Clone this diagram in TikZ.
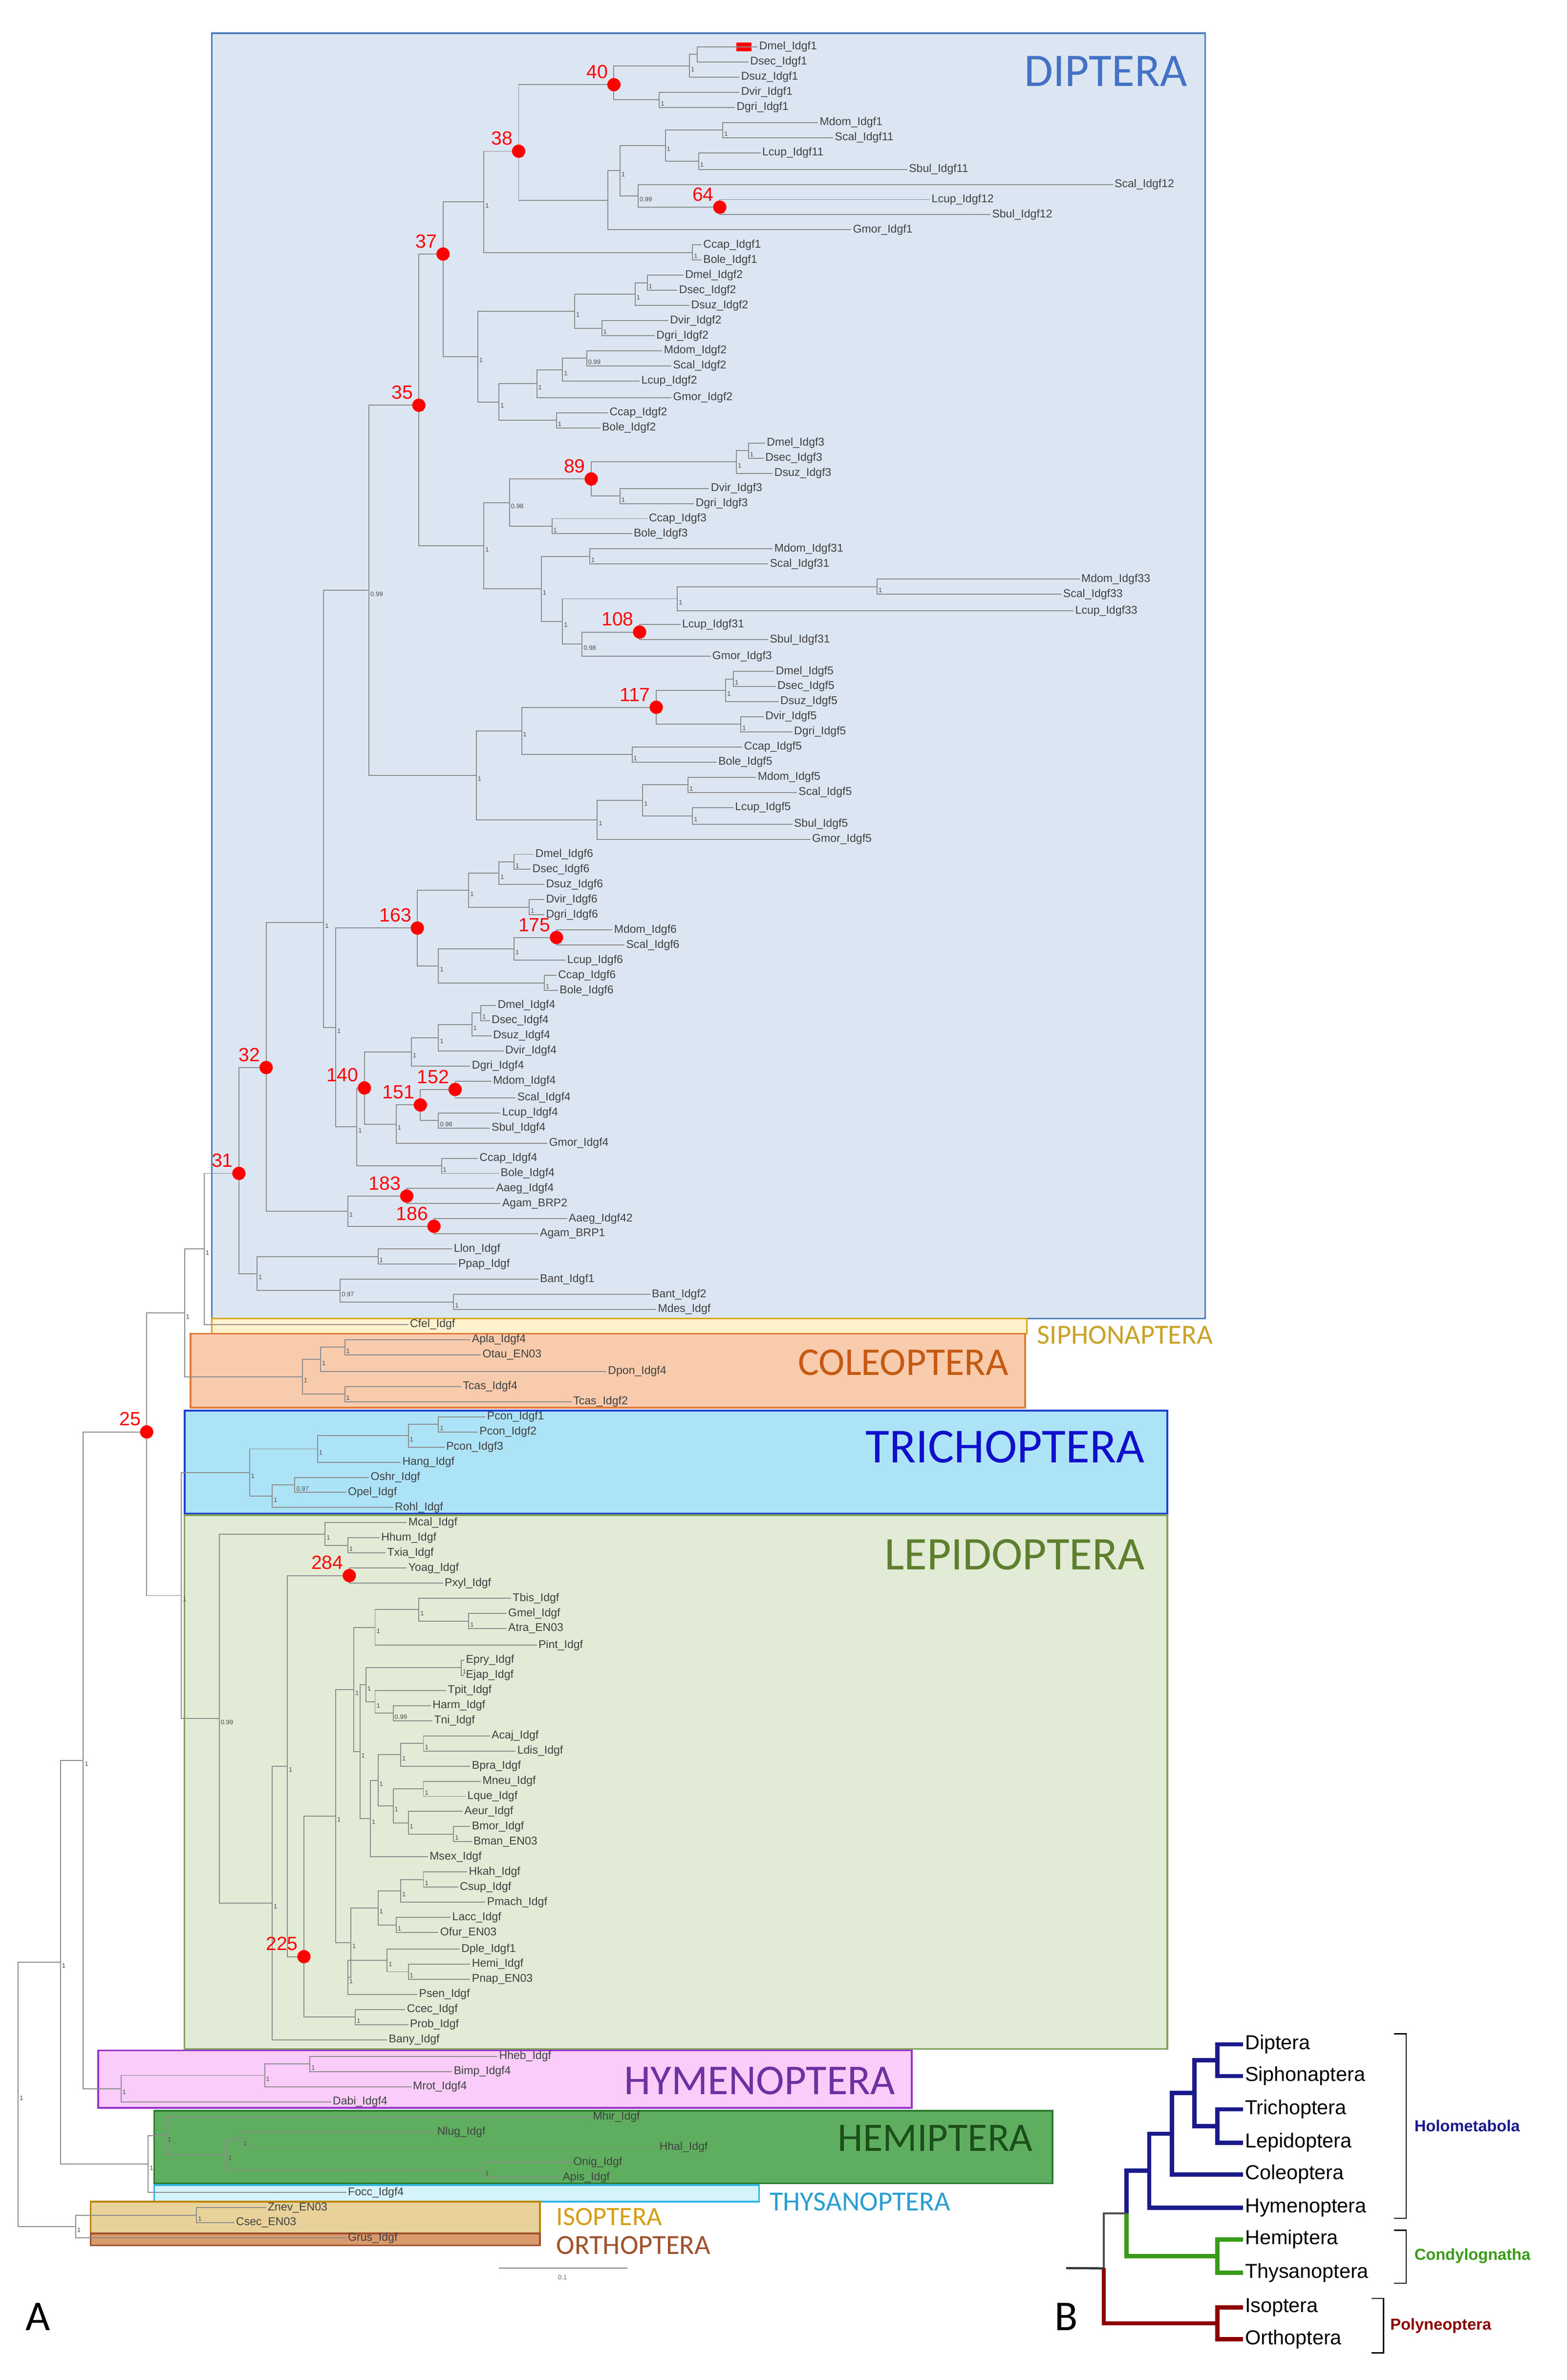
\documentclass[tikz,border=0pt]{standalone}
\usepackage{fontspec}
\setmainfont{Liberation Sans}
\newfontfamily\calf{Carlito}
\usetikzlibrary{calc}
\definecolor{dipfill}{HTML}{DCE6F2}\definecolor{dipdraw}{HTML}{4F81BD}\definecolor{diptext}{HTML}{4472C4}
\definecolor{siphfill}{HTML}{FFF2CC}\definecolor{siphdraw}{HTML}{D6A520}\definecolor{siphtext}{HTML}{C9A227}
\definecolor{colfill}{HTML}{F8CBAD}\definecolor{coldraw}{HTML}{E07B39}\definecolor{coltext}{HTML}{C55A11}
\definecolor{trifill}{HTML}{ADE3F7}\definecolor{tridraw}{HTML}{1F3FD1}\definecolor{tritext}{HTML}{1010CC}
\definecolor{lepfill}{HTML}{E2EBD5}\definecolor{lepdraw}{HTML}{7FA15A}\definecolor{leptext}{HTML}{5E7F2E}
\definecolor{hymfill}{HTML}{F9CCF9}\definecolor{hymdraw}{HTML}{9933CC}\definecolor{hymtext}{HTML}{7030A0}
\definecolor{hemfill}{HTML}{5FAE5F}\definecolor{hemdraw}{HTML}{2E7D32}\definecolor{hemtext}{HTML}{1B4F1B}
\definecolor{thyfill}{HTML}{D5F3FB}\definecolor{thydraw}{HTML}{33B5E5}\definecolor{thytext}{HTML}{2A9FD0}
\definecolor{isofill}{HTML}{E8D29A}\definecolor{isodraw}{HTML}{B8860B}\definecolor{isotext}{HTML}{D4A017}
\definecolor{orfill}{HTML}{D99A6C}\definecolor{ordraw}{HTML}{A0522D}\definecolor{ortext}{HTML}{A0522D}
\definecolor{bnavy}{HTML}{1A1A8C}\definecolor{bgreen}{HTML}{3A9A1A}\definecolor{bred}{HTML}{8B0000}
\newcommand\lf[4]{\coordinate (#1) at (#2,#3); \node[lf] at (#1) {#4};}
\newcommand\nd[5][]{\coordinate (tmpc) at ($(#4)!.5!(#5)$); \coordinate (tmpx) at (#3,0);
  \coordinate (#2) at (tmpc -| tmpx); \draw[br] (#4) -| (#2); \draw[br] (#5) -| (#2);
  \if\relax\detokenize{#1}\relax\else\node[sup] at (#2) {#1};\fi}
\newcommand\ndy[6][]{\coordinate (#2) at (#3,#4); \draw[br] (#5) -| (#2); \draw[br] (#6) -| (#2);
  \if\relax\detokenize{#1}\relax\else\node[sup] at (#2) {#1};\fi}
\newcommand\rd[2]{\fill[red] (#1) circle (0.11cm); \node[rn] at ($(#1)+(-3,-3)$) {#2};}
\begin{document}
\begin{tikzpicture}[x=0.025cm,y=-0.025cm,
 br/.style={draw=black!45,line width=0.45pt},
 lf/.style={anchor=west,inner sep=0.6pt,font=\fontsize{5.3}{6}\selectfont,text=black!75},
 sup/.style={anchor=north west,inner sep=0.5pt,font=\fontsize{3}{3}\selectfont,text=black!70},
 rn/.style={anchor=south east,inner sep=0.5pt,text=red,font=\fontsize{9}{9}\selectfont},
 bl/.style={anchor=west,inner sep=0.8pt,font=\fontsize{9.5}{10}\selectfont},
 bb/.style={anchor=west,inner sep=0.8pt,font=\bfseries\fontsize{7.5}{8}\selectfont}]
\useasboundingbox[fill=white] (0,0) rectangle (1036,1574);
% boxes
\draw[fill=dipfill,draw=dipdraw,line width=0.8pt] (140,22) rectangle (797,872);
\node[text=diptext,font=\calf\fontsize{22}{22}\selectfont,anchor=east] (tdip) at (790,47) {DIPTERA};
\draw[fill=siphfill,draw=siphdraw,line width=0.8pt] (140,872) rectangle (679,882);
\node[text=siphtext,font=\calf\fontsize{13}{13}\selectfont,anchor=west] (tsip) at (681,883) {SIPHONAPTERA};
\draw[fill=colfill,draw=coldraw,line width=0.8pt] (126,882) rectangle (678,931);
\node[text=coltext,font=\calf\fontsize{18.5}{18.5}\selectfont,anchor=east] (tcol) at (672,901) {COLEOPTERA};
\draw[fill=trifill,draw=tridraw,line width=0.9pt] (122,933) rectangle (772,1001);
\node[text=tritext,font=\calf\fontsize{23}{23}\selectfont,anchor=east] (ttri) at (762,957) {TRICHOPTERA};
\draw[fill=lepfill,draw=lepdraw,line width=0.8pt] (122,1002) rectangle (772,1355);
\node[text=leptext,font=\calf\fontsize{22}{22}\selectfont,anchor=east] (tlep) at (762,1028) {LEPIDOPTERA};
\draw[fill=hymfill,draw=hymdraw,line width=0.8pt] (65,1356) rectangle (603,1394);
\node[text=hymtext,font=\calf\fontsize{20}{20}\selectfont,anchor=east] (thym) at (597,1376) {HYMENOPTERA};
\draw[fill=hemfill,draw=hemdraw,line width=0.8pt] (102,1396) rectangle (696,1444);
\node[text=hemtext,font=\calf\fontsize{19}{19}\selectfont,anchor=east] (them) at (688,1414) {HEMIPTERA};
\draw[fill=thyfill,draw=thydraw,line width=0.8pt] (102,1445) rectangle (502,1456);
\node[text=thytext,font=\calf\fontsize{13}{13}\selectfont,anchor=west] (tthy) at (504,1456) {THYSANOPTERA};
\draw[fill=isofill,draw=isodraw,line width=0.8pt] (60,1456) rectangle (357,1477);
\node[text=isotext,font=\calf\fontsize{12.5}{12.5}\selectfont,anchor=west] (tiso) at (363,1466) {ISOPTERA};
\draw[fill=orfill,draw=ordraw,line width=0.8pt] (60,1477) rectangle (357,1485);
\node[text=ortext,font=\calf\fontsize{13}{13}\selectfont,anchor=west] (tort) at (363,1485) {ORTHOPTERA};
\fill[red] (487,28) rectangle (497,34);
% Idgf1
\lf{dm1}{501}{31}{Dmel\_Idgf1}\lf{ds1}{495}{41}{Dsec\_Idgf1}\lf{dz1}{489}{51}{Dsuz\_Idgf1}
\lf{dv1}{489}{61}{Dvir\_Idgf1}\lf{dg1}{486}{71}{Dgri\_Idgf1}
\nd{a1}{461}{dm1}{ds1}\nd[1]{a2}{456}{a1}{dz1}\nd[1]{a3}{436}{dv1}{dg1}\ndy{a4}{406}{56}{a2}{a3}
\lf{md1}{541}{81}{Mdom\_Idgf1}\lf{sc11}{551}{91}{Scal\_Idgf11}\lf{lc11}{503}{101}{Lcup\_Idgf11}
\lf{sb11}{600}{112}{Sbul\_Idgf11}\lf{sc12}{736}{122}{Scal\_Idgf12}\lf{lc12}{615}{132}{Lcup\_Idgf12}
\lf{sb12}{655}{142}{Sbul\_Idgf12}\lf{gm1}{563}{152}{Gmor\_Idgf1}
\nd[1]{b1}{478}{md1}{sc11}\nd[1]{b2}{462}{lc11}{sb11}\nd[1]{b3}{440}{b1}{b2}
\nd[1]{b4}{476}{lc12}{sb12}\nd[0.99]{b5}{422}{sc12}{b4}\nd[1]{b6}{410}{b3}{b5}\nd{b7}{402}{b6}{gm1}
\ndy[1]{n38}{343}{100}{a4}{b7}
\lf{cc1}{464}{162}{Ccap\_Idgf1}\lf{bo1}{464}{172}{Bole\_Idgf1}
\nd[1]{c1}{458}{cc1}{bo1}\nd[1]{k1}{320}{n38}{c1}
% Idgf2
\lf{dm2}{452}{182}{Dmel\_Idgf2}\lf{ds2}{448}{192}{Dsec\_Idgf2}\lf{dz2}{456}{202}{Dsuz\_Idgf2}
\lf{dv2}{442}{212}{Dvir\_Idgf2}\lf{dg2}{433}{222}{Dgri\_Idgf2}\lf{md2}{438}{232}{Mdom\_Idgf2}
\lf{sc2}{444}{242}{Scal\_Idgf2}\lf{lc2}{423}{252}{Lcup\_Idgf2}\lf{gm2}{444}{263}{Gmor\_Idgf2}
\lf{cc2}{402}{273}{Ccap\_Idgf2}\lf{bo2}{397}{283}{Bole\_Idgf2}
\nd[1]{e1}{428}{dm2}{ds2}\nd[1]{e2}{420}{e1}{dz2}\nd[1]{e3}{398}{dv2}{dg2}\nd[1]{e4}{380}{e2}{e3}
\nd[0.99]{e5}{388}{md2}{sc2}\nd[1]{e6}{372}{e5}{lc2}\nd[1]{e7}{355}{e6}{gm2}
\nd[1]{e9}{368}{cc2}{bo2}\nd[1]{e8}{330}{e7}{e9}\nd[1]{e10}{316}{e4}{e8}
\ndy[1]{n37}{293}{168}{k1}{e10}
% Idgf3
\lf{dm3}{506}{293}{Dmel\_Idgf3}\lf{ds3}{505}{303}{Dsec\_Idgf3}\lf{dz3}{511}{313}{Dsuz\_Idgf3}
\lf{dv3}{469}{323}{Dvir\_Idgf3}\lf{dg3}{459}{333}{Dgri\_Idgf3}\lf{cc3}{428}{343}{Ccap\_Idgf3}
\lf{bo3}{418}{353}{Bole\_Idgf3}\lf{md31}{511}{363}{Mdom\_Idgf31}\lf{sc31}{508}{373}{Scal\_Idgf31}
\lf{md33}{714}{383}{Mdom\_Idgf33}\lf{sc33}{702}{393}{Scal\_Idgf33}\lf{lc33}{710}{404}{Lcup\_Idgf33}
\lf{lc31}{450}{413}{Lcup\_Idgf31}\lf{sb31}{508}{423}{Sbul\_Idgf31}\lf{gm3}{470}{434}{Gmor\_Idgf3}
\nd[1]{f1}{495}{dm3}{ds3}\nd[1]{f2}{487}{f1}{dz3}\nd[1]{f3}{410}{dv3}{dg3}\nd[1]{f4}{391}{f2}{f3}
\nd[1]{f5}{365}{cc3}{bo3}\nd[0.98]{f6}{337}{f4}{f5}
\nd[1]{g1}{390}{md31}{sc31}\nd[1]{g2}{580}{md33}{sc33}\nd[1]{g3}{448}{g2}{lc33}
\nd[1]{g4}{423}{lc31}{sb31}\nd[0.98]{g5}{385}{g4}{gm3}\nd[1]{g6}{372}{g3}{g5}\nd[1]{g7}{358}{g1}{g6}
\nd[1]{f7}{320}{f6}{g7}\ndy[1]{n35}{277}{268}{n37}{f7}
% Idgf5
\lf{dm5}{512}{444}{Dmel\_Idgf5}\lf{ds5}{513}{454}{Dsec\_Idgf5}\lf{dz5}{515}{464}{Dsuz\_Idgf5}
\lf{dv5}{505}{474}{Dvir\_Idgf5}\lf{dg5}{524}{484}{Dgri\_Idgf5}\lf{cc5}{491}{494}{Ccap\_Idgf5}
\lf{bo5}{474}{504}{Bole\_Idgf5}\lf{md5}{500}{514}{Mdom\_Idgf5}\lf{sc5}{527}{524}{Scal\_Idgf5}
\lf{lc5}{485}{534}{Lcup\_Idgf5}\lf{sb5}{524}{545}{Sbul\_Idgf5}\lf{gm5}{536}{555}{Gmor\_Idgf5}
\nd[1]{h1}{485}{dm5}{ds5}\nd[1]{h2}{480}{h1}{dz5}\nd[1]{h3}{490}{dv5}{dg5}\nd[1]{h4}{434}{h2}{h3}
\nd[1]{h5}{418}{cc5}{bo5}\nd[1]{h6}{345}{h4}{h5}
\nd[1]{i1}{455}{md5}{sc5}\nd[1]{i2}{458}{lc5}{sb5}\nd[1]{i3}{425}{i1}{i2}\nd[1]{i4}{395}{i3}{gm5}
\nd[1]{h7}{315}{h6}{i4}\nd[0.99]{j1}{244}{n35}{h7}
% Idgf6
\lf{dm6}{353}{565}{Dmel\_Idgf6}\lf{ds6}{351}{575}{Dsec\_Idgf6}\lf{dz6}{360}{585}{Dsuz\_Idgf6}
\lf{dv6}{360}{595}{Dvir\_Idgf6}\lf{dg6}{360}{605}{Dgri\_Idgf6}\lf{md6}{405}{615}{Mdom\_Idgf6}
\lf{sc6}{413}{625}{Scal\_Idgf6}\lf{lc6}{374}{635}{Lcup\_Idgf6}\lf{cc6}{368}{645}{Ccap\_Idgf6}
\lf{bo6}{369}{655}{Bole\_Idgf6}
\nd[1]{o1}{340}{dm6}{ds6}\nd[1]{o2}{330}{o1}{dz6}\nd[1]{o3}{350}{dv6}{dg6}\nd[1]{o4}{310}{o2}{o3}
\nd[1]{o5}{368}{md6}{sc6}\nd[1]{o6}{340}{o5}{lc6}\nd[1]{o7}{360}{cc6}{bo6}\nd[1]{o8}{290}{o6}{o7}
\nd[1]{o9}{276}{o4}{o8}
% Idgf4
\lf{dm4}{328}{665}{Dmel\_Idgf4}\lf{ds4}{324}{675}{Dsec\_Idgf4}\lf{dz4}{325}{685}{Dsuz\_Idgf4}
\lf{dv4}{333}{695}{Dvir\_Idgf4}\lf{dg4}{311}{705}{Dgri\_Idgf4}\lf{md4}{325}{715}{Mdom\_Idgf4}
\lf{sc4}{341}{726}{Scal\_Idgf4}\lf{lc4}{331}{736}{Lcup\_Idgf4}\lf{sb4}{324}{746}{Sbul\_Idgf4}
\lf{gm4}{362}{756}{Gmor\_Idgf4}\lf{cc4}{316}{766}{Ccap\_Idgf4}\lf{bo4}{330}{776}{Bole\_Idgf4}
\nd[1]{p1}{318}{dm4}{ds4}\nd[1]{p2}{312}{p1}{dz4}\nd[1]{p3}{290}{p2}{dv4}\nd[1]{p4}{272}{p3}{dg4}
\nd[1]{p5}{301}{md4}{sc4}\nd[0.98]{p6}{290}{lc4}{sb4}\nd[1]{p7}{278}{p5}{p6}\nd[1]{p8}{262}{p7}{gm4}
\nd[1]{p9}{241}{p4}{p8}\nd[1]{p10}{292}{cc4}{bo4}\nd[1]{p11}{236}{p9}{p10}
\nd[1]{q0}{222}{o9}{p11}\ndy[1]{q1}{214}{610}{j1}{q0}
\lf{aa4}{327}{786}{Aaeg\_Idgf4}\lf{ab2}{331}{796}{Agam\_BRP2}
\lf{aa42}{375}{806}{Aaeg\_Idgf42}\lf{ab1}{356}{816}{Agam\_BRP1}
\nd[1]{r1}{269}{aa4}{ab2}\nd[1]{r2}{287}{aa42}{ab1}\nd[1]{r3}{230}{r1}{r2}
\ndy[1]{n32}{176}{706}{q1}{r3}
\lf{ll}{299}{826}{Llon\_Idgf}\lf{pp}{302}{836}{Ppap\_Idgf}\lf{ba1}{356}{846}{Bant\_Idgf1}
\lf{ba2}{430}{856}{Bant\_Idgf2}\lf{mde}{434}{866}{Mdes\_Idgf}
\nd[1]{s1}{250}{ll}{pp}\nd[1]{s2}{300}{ba2}{mde}\nd[0.97]{s3}{225}{ba1}{s2}\nd[1]{s4}{170}{s1}{s3}
\ndy[1]{n31}{158}{776}{n32}{s4}
\lf{cf}{270}{876}{Cfel\_Idgf}
\nd[1]{t1}{135}{n31}{cf}
% Coleoptera
\lf{ap}{311}{886}{Apla\_Idgf4}\lf{ot}{318}{896}{Otau\_EN03}\lf{dp}{401}{907}{Dpon\_Idgf4}
\lf{tc4}{305}{917}{Tcas\_Idgf4}\lf{tc2}{378}{927}{Tcas\_Idgf2}
\nd[1]{u1}{228}{ap}{ot}\nd[1]{u2}{212}{u1}{dp}\nd[1]{u3}{228}{tc4}{tc2}\nd[1]{u4}{200}{u2}{u3}
\nd[1]{t2}{122}{t1}{u4}
% Trichoptera
\lf{pc1}{321}{937}{Pcon\_Idgf1}\lf{pc2}{316}{947}{Pcon\_Idgf2}\lf{pc3}{294}{957}{Pcon\_Idgf3}
\lf{ha}{265}{967}{Hang\_Idgf}\lf{os}{244}{977}{Oshr\_Idgf}\lf{op}{229}{987}{Opel\_Idgf}
\lf{ro}{260}{997}{Rohl\_Idgf}
\nd[1]{v1}{290}{pc1}{pc2}\nd[1]{v2}{270}{v1}{pc3}\nd[1]{v3}{210}{v2}{ha}
\nd[0.97]{v4}{195}{os}{op}\nd[1]{v5}{180}{v4}{ro}\nd[1]{v6}{165}{v3}{v5}
% Lepidoptera
\lf{mc}{269}{1007}{Mcal\_Idgf}\lf{hhu}{251}{1017}{Hhum\_Idgf}\lf{tx}{255}{1027}{Txia\_Idgf}
\lf{yo}{269}{1037}{Yoag\_Idgf}\lf{px}{293}{1047}{Pxyl\_Idgf}\lf{tb}{338}{1057}{Tbis\_Idgf}
\lf{gme}{335}{1067}{Gmel\_Idgf}\lf{at}{335}{1077}{Atra\_EN03}\lf{pi}{355}{1088}{Pint\_Idgf}
\lf{ep}{307}{1098}{Epry\_Idgf}\lf{ej}{307}{1108}{Ejap\_Idgf}\lf{tp}{295}{1118}{Tpit\_Idgf}
\lf{hr}{285}{1128}{Harm\_Idgf}\lf{tn}{286}{1138}{Tni\_Idgf}\lf{ac}{324}{1148}{Acaj\_Idgf}
\lf{ld}{341}{1158}{Ldis\_Idgf}\lf{bp}{311}{1168}{Bpra\_Idgf}\lf{mn}{318}{1178}{Mneu\_Idgf}
\lf{lq}{308}{1188}{Lque\_Idgf}\lf{ae}{306}{1198}{Aeur\_Idgf}\lf{bm}{311}{1208}{Bmor\_Idgf}
\lf{bn}{312}{1218}{Bman\_EN03}\lf{ms}{283}{1228}{Msex\_Idgf}\lf{hk}{309}{1238}{Hkah\_Idgf}
\lf{cs}{303}{1248}{Csup\_Idgf}\lf{pm}{321}{1258}{Pmach\_Idgf}\lf{la}{298}{1268}{Lacc\_Idgf}
\lf{of}{290}{1278}{Ofur\_EN03}\lf{dp1}{304}{1289}{Dple\_Idgf1}\lf{he}{311}{1299}{Hemi\_Idgf}
\lf{pn}{311}{1309}{Pnap\_EN03}\lf{ps}{276}{1319}{Psen\_Idgf}\lf{ce}{268}{1329}{Ccec\_Idgf}
\lf{pr}{270}{1339}{Prob\_Idgf}\lf{ban}{256}{1349}{Bany\_Idgf}
\nd[1]{y1}{230}{hhu}{tx}\nd[1]{y2}{215}{mc}{y1}\nd[1]{y3}{231}{yo}{px}
\nd[1]{z1}{310}{gme}{at}\nd[1]{z2}{277}{tb}{z1}\nd[1]{z3}{248}{z2}{pi}\nd[1]{z4}{305}{ep}{ej}
\nd[0.99]{z5}{260}{hr}{tn}\nd[1]{z6}{248}{tp}{z5}\nd[1]{z7}{280}{ac}{ld}\nd[1]{z8}{265}{z7}{bp}
\nd[1]{z9}{280}{mn}{lq}\nd[1]{z10}{300}{bm}{bn}\nd[1]{z11}{270}{ae}{z10}\nd[1]{z12}{260}{z9}{z11}
\nd[1]{z13}{250}{z8}{z12}\nd[1]{z14}{245}{z13}{ms}\nd[1]{z15}{280}{hk}{cs}\nd[1]{z16}{265}{z15}{pm}
\nd[1]{z17}{262}{la}{of}\nd[1]{z18}{250}{z16}{z17}\nd[1]{z19}{270}{he}{pn}\nd[1]{z20}{256}{dp1}{z19}
\nd[1]{z21}{230}{z20}{ps}\nd[1]{z22}{235}{ce}{pr}
\nd[1]{bb1}{242}{z4}{z6}\nd[1]{bb2}{238}{bb1}{z14}\nd[1]{bb3}{234}{z3}{bb2}\nd[1]{bb4}{232}{z18}{z21}
\nd[1]{bb5}{222}{bb3}{bb4}\ndy[1]{n225}{201}{1294}{bb5}{z22}\nd[1]{bb6}{190}{y3}{n225}
\nd[1]{bb7}{180}{bb6}{ban}\nd[0.99]{bb8}{145}{y2}{bb7}
\nd[1]{t4}{120}{v6}{bb8}\ndy[1]{n25}{97}{947}{t2}{t4}
% Hymenoptera
\lf{hb}{329}{1360}{Hheb\_Idgf}\lf{bi}{299}{1370}{Bimp\_Idgf4}\lf{mr}{272}{1380}{Mrot\_Idgf4}
\lf{da}{219}{1390}{Dabi\_Idgf4}
\nd[1]{x1}{205}{hb}{bi}\nd[1]{x2}{175}{x1}{mr}\nd[1]{x3}{80}{x2}{da}
\nd[1]{holo}{55}{n25}{x3}
% Hemiptera
\lf{mh}{391}{1400}{Mhir\_Idgf}\lf{nl}{288}{1410}{Nlug\_Idgf}\lf{hha}{435}{1420}{Hhal\_Idgf}
\lf{on}{378}{1430}{Onig\_Idgf}\lf{ap2}{371}{1440}{Apis\_Idgf}\lf{fo}{229}{1450}{Focc\_Idgf4}
\nd[1]{w1}{160}{nl}{hha}\nd[1]{w2}{320}{on}{ap2}\nd[1]{w3}{150}{w1}{w2}\nd[1]{w4}{110}{mh}{w3}
\nd[1]{w5}{98}{w4}{fo}\nd[1]{hh}{40}{holo}{w5}
\lf{zn}{176}{1460}{Znev\_EN03}\lf{cse}{155}{1470}{Csec\_EN03}\lf{gr}{229}{1480}{Grus\_Idgf}
\nd[1]{k2}{130}{zn}{cse}\nd[1]{k3}{50}{k2}{gr}\nd[1]{root}{12}{hh}{k3}
% red dots
\rd{a4}{40}\rd{n38}{38}\rd{b4}{64}\rd{n37}{37}\rd{n35}{35}\rd{f4}{89}\rd{g4}{108}\rd{h4}{117}
\rd{o9}{163}\rd{o5}{175}\rd{n32}{32}\rd{p9}{140}\rd{p5}{152}\rd{p7}{151}\rd{n31}{31}
\rd{r1}{183}\rd{r2}{186}\rd{n25}{25}\rd{y3}{284}\rd{n225}{225}
% scale bar
\coordinate (sb1) at (330,1500); \coordinate (sb2) at (415,1500);
\draw[black!50,line width=0.5pt] (sb1) -- (sb2);
\node[font=\fontsize{3}{3}\selectfont,text=black!60] (sbl) at (372,1506) {0.1};
\node[font=\calf\fontsize{20}{20}\selectfont] (labA) at (25,1532) {A};
\node[font=\calf\fontsize{20}{20}\selectfont] (labB) at (705,1532) {B};
% Panel B
\coordinate (Bd) at (822,1352);\coordinate (Bs) at (822,1373);\coordinate (Bt) at (822,1395);
\coordinate (Bl) at (822,1417);\coordinate (Bc) at (822,1438);\coordinate (By) at (822,1460);
\coordinate (Bhe) at (822,1481);\coordinate (Bth) at (822,1503);\coordinate (Bi) at (822,1526);
\coordinate (Bo) at (822,1547);
\node[bl] at (Bd) {Diptera};\node[bl] at (Bs) {Siphonaptera};\node[bl] at (Bt) {Trichoptera};
\node[bl] at (Bl) {Lepidoptera};\node[bl] at (Bc) {Coleoptera};\node[bl] at (By) {Hymenoptera};
\node[bl] at (Bhe) {Hemiptera};\node[bl] at (Bth) {Thysanoptera};\node[bl] at (Bi) {Isoptera};
\node[bl] at (Bo) {Orthoptera};
\begin{scope}[br/.style={draw=bnavy,line width=2pt}]
\nd{B1}{805}{Bd}{Bs}\nd{B2}{805}{Bt}{Bl}\nd{B3}{790}{B1}{B2}\nd{B4}{775}{B3}{Bc}\nd{B5}{760}{B4}{By}
\end{scope}
\begin{scope}[br/.style={draw=bgreen,line width=2pt}]
\nd{B6}{805}{Bhe}{Bth}
\end{scope}
\begin{scope}[br/.style={draw=bred,line width=2pt}]
\nd{B8}{805}{Bi}{Bo}
\end{scope}
\coordinate (tmpc) at ($(B5)!.5!(B6)$); \coordinate (tmpx) at (745,0); \coordinate (B7) at (tmpc -| tmpx);
\draw[bgreen,line width=2pt] (B6) -| (B7);
\draw[bnavy,line width=2pt] (B5) -| (B7);
\coordinate (tmpc) at ($(B7)!.5!(B8)$); \coordinate (tmpx) at (730,0); \coordinate (B9) at (tmpc -| tmpx);
\draw[bred,line width=2pt] (B8) -| (B9);
\draw[black!70,line width=1pt] (B7) -| (B9);
\coordinate (Br) at (705,1500);
\draw[black!80,line width=1pt] (Br) -- (B9);
\draw[black,line width=0.6pt] (922,1345) -- (930,1345) -- (930,1467) -- (922,1467);
\node[bb,text=bnavy] (hol) at (934,1406) {Holometabola};
\draw[black,line width=0.6pt] (922,1475) -- (930,1475) -- (930,1510) -- (922,1510);
\node[bb,text=bgreen] (con) at (934,1492) {Condylognatha};
\draw[black,line width=0.6pt] (907,1520) -- (915,1520) -- (915,1556) -- (907,1556);
\node[bb,text=bred] (pol) at (918,1538) {Polyneoptera};
\end{tikzpicture}
\end{document}
